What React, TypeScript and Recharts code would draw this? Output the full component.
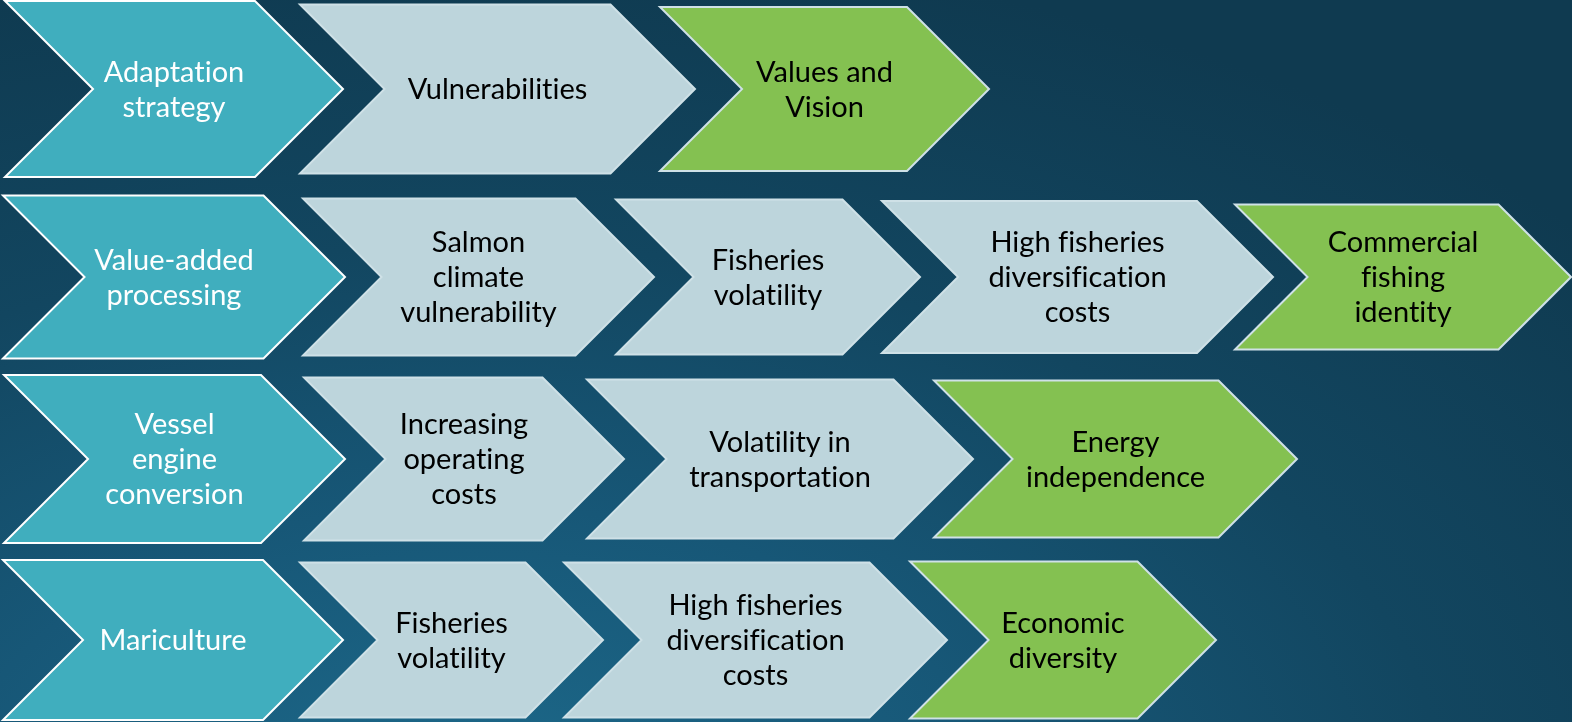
import React from "react";
import { BarChart, Bar, XAxis, YAxis } from "recharts";

// ---- data ----
const rowNames = ["Adaptation strategy", "Value-added processing", "Vessel engine conversion", "Mariculture"];

const row1Labels = ["Adaptation\nstrategy", "Vulnerabilities", "Values and\nVision"];
const row2Labels = ["Value-added\nprocessing", "Salmon\nclimate\nvulnerability", "Fisheries\nvolatility", "High fisheries\ndiversification\ncosts", "Commercial\nfishing\nidentity"];
const row3Labels = ["Vessel\nengine\nconversion", "Increasing\noperating\ncosts", "Volatility in\ntransportation", "Energy\nindependence"];
const row4Labels = ["Mariculture", "Fisheries\nvolatility", "High fisheries\ndiversification\ncosts", "Economic\ndiversity"];

const row1Starts = [5, 300, 660];
const row1Ends = [343, 695, 989];
const row2Starts = [3, 303, 616, 882, 1235];
const row2Ends = [345, 654, 920, 1273, 1571];
const row3Starts = [4, 304, 587, 934];
const row3Ends = [345, 624, 973, 1297];
const row4Starts = [3, 300, 564, 910];
const row4Ends = [343, 603, 947, 1216];

const allLabels = [row1Labels, row2Labels, row3Labels, row4Labels];
const allStarts = [row1Starts, row2Starts, row3Starts, row4Starts];
const allEnds = [row1Ends, row2Ends, row3Ends, row4Ends];

const MAX_STEPS = 5;
const stepKeys = Array.from({ length: MAX_STEPS }, (_, i) => `s${i}`);

const tableData = rowNames.map((name, r) => {
  const rec: any = { row: name, labels: allLabels[r], count: allLabels[r].length };
  allLabels[r].forEach((_, k) => {
    rec[`s${k}`] = [allStarts[r][k], allEnds[r][k]];
  });
  return rec;
});

// ---- styles ----
const chevronHeights = [
  [176, 169, 164],
  [163, 157, 155, 152, 145],
  [168, 163, 159, 157],
  [160, 155, 155, 157],
];
const rowShift = [0, 4, 2, -1];
const TEAL = "#40aebe";
const LIGHT = "#bdd5dc";
const GREEN = "#84c151";
const FONT = "Lato, 'Open Sans', sans-serif";
const FONT_SIZE = 29;
const LINE_H = 35;

function makeShape(step: number) {
  return (props: any) => {
    const { x, y, width, height, payload } = props;
    if (!payload || step >= payload.count || !isFinite(x) || !isFinite(width)) return <g />;
    const r = rowNames.indexOf(payload.row);
    const h = chevronHeights[r][step];
    const cy = y + height / 2 + rowShift[r];
    const d = h / 2;
    const top = cy - h / 2;
    const bot = cy + h / 2;
    const pts = [
      [x, top],
      [x + width - d, top],
      [x + width, cy],
      [x + width - d, bot],
      [x, bot],
      [x + d, cy],
    ]
      .map((p) => p.join(","))
      .join(" ");
    const isFirst = step === 0;
    const isLast = step === payload.count - 1;
    const fill = isFirst ? TEAL : isLast ? GREEN : LIGHT;
    const stroke = isFirst ? "#ffffff" : "#cfe1e7";
    const textColor = isFirst ? "#ffffff" : "#000000";
    const lines: string[] = String(payload.labels[step]).split("\n");
    const cx = x + width / 2;
    const firstY = cy - 2 - ((lines.length - 1) * LINE_H) / 2;
    return (
      <g>
        <polygon points={pts} fill={fill} stroke={stroke} strokeWidth={2} strokeLinejoin="miter" />
        <text
          x={cx}
          y={firstY}
          textAnchor="middle"
          dominantBaseline="central"
          fill={textColor}
          fontFamily={FONT}
          fontSize={FONT_SIZE}
          style={{ fontVariantLigatures: "none" }}
        >
          {lines.map((ln, i) => (
            <tspan key={i} x={cx} y={firstY + i * LINE_H} dominantBaseline="central">
              {ln}
            </tspan>
          ))}
        </text>
      </g>
    );
  };
}

export default function App() {
  return (
    <div
      style={{
        position: "fixed",
        left: 0,
        top: 0,
        width: 1572,
        height: 722,
        overflow: "hidden",
        background:
          "radial-gradient(ellipse 95% 120% at 30% 112%, #1d6a8b 0%, #175777 35%, #124660 65%, #0f3a50 100%)",
      }}
    >
      <div style={{ position: "absolute", left: 0, top: -3 }}>
        <BarChart
          width={1572}
          height={736}
          data={tableData}
          layout="vertical"
          margin={{ top: 0, right: 0, bottom: 0, left: 0 }}
          barCategoryGap={0}
          barGap={-180}
        >
          <XAxis type="number" domain={[0, 1572]} hide allowDataOverflow />
          <YAxis type="category" dataKey="row" hide />
          {stepKeys.map((k, i) => (
            <Bar key={k} dataKey={k} barSize={180} isAnimationActive={false} shape={makeShape(i)} />
          ))}
        </BarChart>
      </div>
    </div>
  );
}
